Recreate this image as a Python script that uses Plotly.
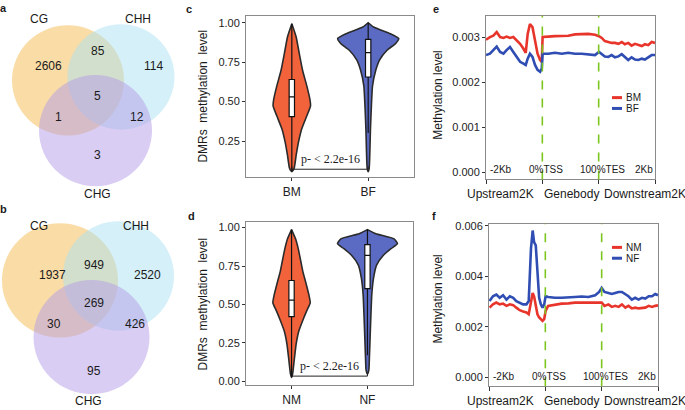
import plotly.graph_objects as go

W, H = 685, 410
FONT = "Liberation Sans, Arial, sans-serif"
SERIF = "Liberation Serif, Times New Roman, serif"

# ---------------- Venn data ----------------
venn_sets = ["CG", "CHH", "CHG"]
# order: CG only, CG&CHH, CHH only, all three, CG&CHG, CHH&CHG, CHG only
venn_a_counts = [2606, 85, 114, 5, 1, 12, 3]
venn_b_counts = [1937, 949, 2520, 269, 30, 426, 95]

# ---------------- Violin data (profile) ----------------
groups_c = ["BM", "BF"]
groups_d = ["NM", "NF"]

bm_y = [0.056, 0.077, 0.16, 0.244, 0.327, 0.41, 0.473, 0.514, 0.598, 0.70, 0.806, 0.91, 0.994]
bm_w = [0, 0.03, 0.057, 0.088, 0.13, 0.197, 0.245, 0.237, 0.197, 0.14, 0.097, 0.057, 0]
bf_y = [0.056, 0.077, 0.18, 0.327, 0.494, 0.60, 0.70, 0.765, 0.827, 0.869, 0.90, 0.93, 0.973, 1.0]
bf_w = [0, 0.013, 0.022, 0.03, 0.044, 0.057, 0.10, 0.15, 0.25, 0.36, 0.40, 0.29, 0.07, 0]
nm_y = [0.026, 0.051, 0.137, 0.244, 0.329, 0.393, 0.457, 0.51, 0.564, 0.65, 0.714, 0.778, 0.863, 0.927, 0.987]
nm_w = [0, 0.015, 0.035, 0.061, 0.097, 0.145, 0.198, 0.246, 0.228, 0.184, 0.149, 0.123, 0.088, 0.053, 0]
nf_y = [0.047, 0.073, 0.158, 0.286, 0.436, 0.564, 0.671, 0.756, 0.82, 0.863, 0.895, 0.927, 0.96, 0.987]
nf_w = [0, 0.018, 0.026, 0.035, 0.046, 0.057, 0.08, 0.12, 0.21, 0.31, 0.395, 0.35, 0.11, 0]

# box stats: q1, median, q3, lower whisker, upper whisker
box_c = {"BM": [0.405, 0.53, 0.64, 0.056, 0.994], "BF": [0.656, 0.81, 0.894, 0.30, 1.0]}
box_d = {"NM": [0.421, 0.528, 0.656, 0.03, 0.987], "NF": [0.603, 0.82, 0.889, 0.17, 0.987]}
p_text = "p- < 2.2e-16"
p_c_level = 0.071
p_d_level = 0.034

# ---------------- Methylation profile data ----------------
region_ticks = [0, 20, 40, 60]
region_tick_labels = ["-2Kb", "0%TSS", "100%TES", "2Kb"]
region_names = ["Upstream2K", "Genebody", "Downstream2K"]

e_x = [0, 1.4, 2.6, 3.8, 5, 6.2, 7.3, 8.5, 9.7, 10.9, 12.1, 13.3, 14.1, 14.8, 15.6, 16.5, 17.4, 18.3,
       19.2, 19.8, 20.1, 20.9, 22.1, 24.5, 26.9, 29.2, 31.6, 34, 36.3, 38.7, 40.1, 41.1, 42.2, 43.4,
       44.6, 45.8, 47, 48.2, 49.3, 50.5, 51.7, 52.9, 54.1, 55.3, 56.4, 57.6, 58.8, 60]
e_bm = [0.00295, 0.00301, 0.00304, 0.00312, 0.00301, 0.00299, 0.00302, 0.00299, 0.00301, 0.00293,
        0.00286, 0.00275, 0.00266, 0.00308, 0.00330, 0.00323, 0.00293, 0.00264, 0.00250, 0.00246,
        0.00301, 0.00301, 0.00302, 0.00303, 0.00304, 0.00304, 0.00307, 0.00307, 0.00308, 0.00306,
        0.00303, 0.00299, 0.00292, 0.00290, 0.00288, 0.00288, 0.00286, 0.00290, 0.00285, 0.00288,
        0.00282, 0.00286, 0.00283, 0.00281, 0.00285, 0.00283, 0.00290, 0.00288]
e_bf = [0.00261, 0.00264, 0.00272, 0.00280, 0.00268, 0.00264, 0.00272, 0.00279, 0.00268, 0.00257,
        0.00246, 0.00242, 0.00239, 0.00253, 0.00264, 0.00257, 0.00239, 0.00228, 0.00224, 0.00231,
        0.00264, 0.00264, 0.00264, 0.00266, 0.00264, 0.00266, 0.00264, 0.00264, 0.00263, 0.00261,
        0.00268, 0.00264, 0.00258, 0.00257, 0.00261, 0.00256, 0.00258, 0.00263, 0.00257, 0.00250,
        0.00256, 0.00251, 0.00250, 0.00253, 0.00251, 0.00257, 0.00261, 0.00261]

f_x = [0.2, 1.4, 2.6, 3.8, 5, 6.2, 7.4, 8.6, 9.7, 10.9, 12.1, 13.3, 14.1, 14.9, 15.5, 16, 16.6, 17.2,
       17.8, 18.4, 19, 19.6, 20.1, 21, 23.4, 25.8, 28.2, 30.5, 32.9, 35.3, 37.7, 39.1, 40, 41, 42.4,
       43.6, 44.8, 46, 47.2, 48.4, 49.5, 50.7, 51.9, 53.1, 54.3, 55.5, 56.7, 57.9, 59, 60]
f_nm = [0.00276, 0.00289, 0.00296, 0.00289, 0.00292, 0.00283, 0.00289, 0.00286, 0.00276, 0.00266,
        0.00261, 0.00257, 0.00250, 0.00302, 0.00334, 0.00321, 0.00289, 0.00250, 0.00237, 0.00231,
        0.00224, 0.00231, 0.00263, 0.00283, 0.00289, 0.00292, 0.00293, 0.00296, 0.00296, 0.00296,
        0.00296, 0.00296, 0.00296, 0.00283, 0.00289, 0.00279, 0.00283, 0.00279, 0.00289, 0.00276,
        0.00283, 0.00273, 0.00276, 0.00273, 0.00276, 0.00276, 0.00283, 0.00279, 0.00283, 0.00285]
f_nf = [0.00302, 0.00321, 0.00328, 0.00315, 0.00325, 0.00308, 0.00321, 0.00315, 0.00302, 0.00296,
        0.00289, 0.00289, 0.00302, 0.00509, 0.00581, 0.00535, 0.00522, 0.00419, 0.00315, 0.00289,
        0.00276, 0.00289, 0.00321, 0.00318, 0.00315, 0.00315, 0.00318, 0.00318, 0.00320, 0.00318,
        0.00325, 0.00338, 0.00354, 0.00338, 0.00334, 0.00330, 0.00334, 0.00338, 0.00338, 0.00330,
        0.00321, 0.00308, 0.00315, 0.00308, 0.00315, 0.00312, 0.00321, 0.00321, 0.00330, 0.00325]

# ---------------- styles ----------------
RED_V, BLUE_V = "#F2623B", "#5B6BC4"
RED_L, BLUE_L = "#E8352B", "#2F4DB3"
GREEN = "#7DC620"
C_CG, C_CHH, C_CHG = "rgb(243,185,77)", "rgb(171,225,241)", "rgb(179,155,231)"


def px(x):
    return x / W


def py(y):
    return 1 - y / H


fig = go.Figure()
shapes = []
ann = []


def text(x, y, s, size=12, bold=False, xanchor="center", family=FONT, **kw):
    ann.append(dict(x=px(x), y=py(y), xref="paper", yref="paper", text=("<b>%s</b>" % s) if bold else s,
                    showarrow=False, xanchor=xanchor, yanchor="middle",
                    font=dict(size=size, family=family, color="#1a1a1a"), **kw))


# ---------------- Venn diagrams ----------------
def venn(circles, counts, count_pos, label_pos):
    colors = [C_CG, C_CHH, C_CHG]
    for (cx, cy, r), col in zip(circles, colors):
        shapes.append(dict(type="circle", xref="paper", yref="paper",
                           x0=px(cx - r), x1=px(cx + r), y0=py(cy + r), y1=py(cy - r),
                           fillcolor=col, opacity=0.5, line=dict(width=0), layer="below"))
    for c, (x, y) in zip(counts, count_pos):
        text(x, y, str(c), size=12)
    for s, (x, y) in zip(venn_sets, label_pos):
        text(x, y, s, size=12)


venn([(68, 77.5, 56), (121, 74, 53.5), (95.5, 128.5, 56.5)], venn_a_counts,
     [(48, 63), (98, 48), (153, 63), (97, 93), (58, 115), (137, 115), (97, 153)],
     [(39, 15), (138, 15), (97, 193)])
venn([(60, 280.5, 58), (118.5, 276, 55.5), (91.5, 338, 58)], venn_b_counts,
     [(52, 275), (94, 265), (147, 275), (94, 303), (54, 325), (135, 325), (94, 372)],
     [(39, 225), (136, 225), (88, 403)])


# ---------------- Violins ----------------
def violin(xa, ya, center, ys, ws, color):
    xs = [center + w for w in ws] + [center - w for w in ws[::-1]]
    yy = list(ys) + list(ys[::-1])
    fig.add_trace(go.Scatter(x=xs, y=yy, mode="lines", fill="toself", fillcolor=color,
                             line=dict(color="#2b2b2b", width=1.6, shape="spline", smoothing=0.5),
                             xaxis=xa, yaxis=ya, showlegend=False, hoverinfo="skip"))


def box(xa, ya, center, st):
    q1, med, q3, lo, hi = st
    fig.add_trace(go.Box(x=[center], q1=[q1], median=[med], q3=[q3], lowerfence=[lo], upperfence=[hi],
                         width=0.07, whiskerwidth=0, fillcolor="white",
                         line=dict(color="#111", width=1.2), xaxis=xa, yaxis=ya,
                         showlegend=False, hoverinfo="skip", boxpoints=False))


def pbracket(xa, ya, level):
    fig.add_trace(go.Scatter(x=[1, 1, 2, 2], y=[level + 0.018, level, level, level + 0.018], mode="lines",
                             line=dict(color="#222", width=1), xaxis=xa, yaxis=ya,
                             showlegend=False, hoverinfo="skip"))
    ann.append(dict(x=1.5, y=level, xref=xa, yref=ya, text=p_text, showarrow=False, yanchor="bottom",
                    yshift=1, font=dict(size=12, family=SERIF, color="#1a1a1a")))


violin("x", "y", 1, bm_y, bm_w, RED_V)
violin("x", "y", 2, bf_y, bf_w, BLUE_V)
box("x5", "y5", 1, box_c["BM"])
box("x5", "y5", 2, box_c["BF"])
pbracket("x", "y", p_c_level)

violin("x2", "y2", 1, nm_y, nm_w, RED_V)
violin("x2", "y2", 2, nf_y, nf_w, BLUE_V)
box("x6", "y6", 1, box_d["NM"])
box("x6", "y6", 2, box_d["NF"])
pbracket("x2", "y2", p_d_level)

# ---------------- Profiles ----------------
fig.add_trace(go.Scatter(x=e_x, y=e_bm, mode="lines", line=dict(color=RED_L, width=2.6),
                         xaxis="x3", yaxis="y3", showlegend=False))
fig.add_trace(go.Scatter(x=e_x, y=e_bf, mode="lines", line=dict(color=BLUE_L, width=2.6),
                         xaxis="x3", yaxis="y3", showlegend=False))
fig.add_trace(go.Scatter(x=f_x, y=f_nm, mode="lines", line=dict(color=RED_L, width=2.6),
                         xaxis="x4", yaxis="y4", showlegend=False))
fig.add_trace(go.Scatter(x=f_x, y=f_nf, mode="lines", line=dict(color=BLUE_L, width=2.6),
                         xaxis="x4", yaxis="y4", showlegend=False))

for xa, ya in [("x3", "y3"), ("x4", "y4")]:
    for xv in region_ticks[1:3]:
        shapes.append(dict(type="line", xref=xa, yref=ya + " domain", x0=xv, x1=xv, y0=0, y1=1,
                           line=dict(color=GREEN, width=1.6, dash="dash")))
    for i, (xv, lab) in enumerate(zip(region_ticks, region_tick_labels)):
        anchor = "left" if i == 0 else ("right" if i == 3 else "center")
        shift = 2 if i == 0 else (0 if i == 3 else 4)
        ann.append(dict(x=xv, y=0.06, xref=xa, yref=ya + " domain", text=lab, showarrow=False,
                        xanchor=anchor, xshift=shift, yanchor="middle",
                        font=dict(size=10, family=FONT, color="#1a1a1a")))

# region names under x axes
for name, cx in zip(region_names, [500, 571, 645]):
    text(cx, 193, name, size=12)
    text(cx, 403, name, size=12)


# legends
def legend(entries, y0):
    for i, (lab, col) in enumerate(entries):
        yy = y0 + i * 11
        shapes.append(dict(type="line", xref="paper", yref="paper", x0=px(612), x1=px(622),
                           y0=py(yy), y1=py(yy), line=dict(color=col, width=3)))
        text(624, yy, lab, size=10, xanchor="left")


legend([("BM", RED_L), ("BF", BLUE_L)], 95)
legend([("NM", RED_L), ("NF", BLUE_L)], 247)

# axis titles
text(203, 94, "DMRs\u00a0 methylation\u00a0 level", size=12, textangle=-90)
text(203, 305, "DMRs\u00a0 methylation\u00a0 level", size=12, textangle=-90)
text(438, 93, "Methylation level", size=12, textangle=-90)
text(438, 300, "Methylation level", size=12, textangle=-90)

# panel letters
for lab, x, y in [("a", 4, 4), ("b", 4, 208), ("c", 189, 5), ("d", 191, 215), ("e", 436, 5), ("f", 434, 215)]:
    text(x, y, lab, size=11, bold=True)

# ---------------- axes ----------------
common = dict(showline=True, mirror=True, linecolor="#8a8a8a", linewidth=1, ticks="outside", ticklen=3,
              tickcolor="#333", tickwidth=1, showgrid=False, zeroline=False,
              tickfont=dict(size=11, family=FONT, color="#222"))
hidden = dict(visible=False, showgrid=False, zeroline=False)


def dom(a, b, total):
    return [a / total, b / total]


fig.update_layout(
    width=W, height=H, margin=dict(l=0, r=0, t=0, b=0), paper_bgcolor="white", plot_bgcolor="white",
    boxmode="overlay", showlegend=False,
    xaxis=dict(domain=dom(246, 414, W), range=[0.4, 2.6], tickvals=[1, 2], ticktext=groups_c,
               anchor="y", **{**common, "tickfont": dict(size=12, family=FONT, color="#222")}),
    yaxis=dict(domain=[py(176), py(12)], range=[0.019, 1.044], tickvals=[0.25, 0.5, 0.75, 1.0],
               tickformat=".2f", anchor="x", **common),
    xaxis5=dict(overlaying="x", range=[0.4, 2.6], anchor="y5", **hidden),
    yaxis5=dict(overlaying="y", range=[0.019, 1.044], anchor="x5", **hidden),
    xaxis2=dict(domain=dom(246, 413, W), range=[0.4, 2.6], tickvals=[1, 2], ticktext=groups_d,
                anchor="y2", **{**common, "tickfont": dict(size=12, family=FONT, color="#222")}),
    yaxis2=dict(domain=[py(387), py(221)], range=[-0.026, 1.038], tickvals=[0, 0.25, 0.5, 0.75, 1.0],
                tickformat=".2f", anchor="x2", **common),
    xaxis6=dict(overlaying="x2", range=[0.4, 2.6], anchor="y6", **hidden),
    yaxis6=dict(overlaying="y2", range=[-0.026, 1.038], anchor="x6", **hidden),
    xaxis3=dict(domain=dom(486, 655, W), range=[0, 60], tickvals=region_ticks, showticklabels=False,
                anchor="y3", **{**common, "ticklen": 4}),
    yaxis3=dict(domain=[py(178), py(12)], range=[-0.000153, 0.003482], tickvals=[0, 0.001, 0.002, 0.003],
                tickformat=".3f", anchor="x3", **common),
    xaxis4=dict(domain=dom(489, 658, W), range=[0, 60], tickvals=region_ticks, showticklabels=False,
                anchor="y4", **{**common, "ticklen": 4}),
    yaxis4=dict(domain=[py(388), py(223)], range=[-0.000351, 0.006078], tickvals=[0, 0.002, 0.004, 0.006],
                tickformat=".3f", anchor="x4", **common),
    shapes=shapes, annotations=ann,
)

fig.write_html("out.html", config={"displayModeBar": False},
               post_script="document.body.style.margin='0';")
